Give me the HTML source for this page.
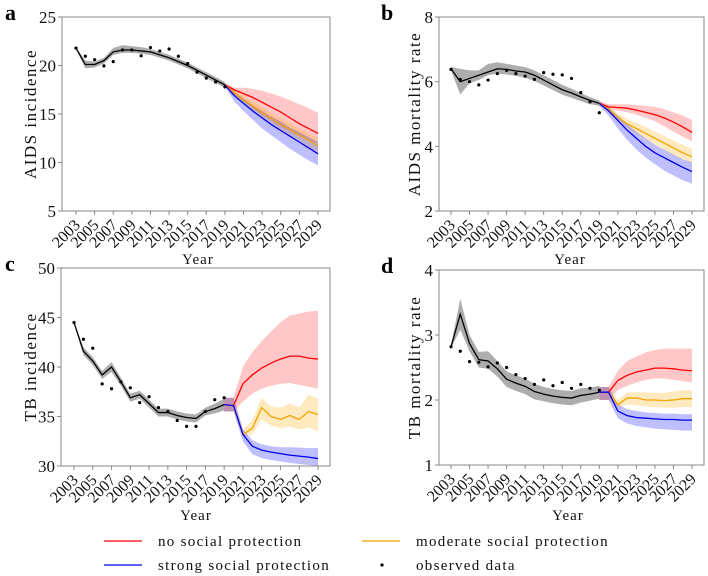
<!DOCTYPE html>
<html><head><meta charset="utf-8">
<style>
body{margin:0;background:#fff;}
svg{display:block;font-family:"Liberation Serif",serif;}
</style></head>
<body>
<svg id="chart" width="708" height="576" viewBox="0 0 708 576"></svg>
<script>
const histYears=[2003,2004,2005,2006,2007,2008,2009,2010,2011,2012,2013,2014,2015,2016,2017,2018,2019];
const projYears=[2019,2020,2021,2022,2023,2024,2025,2026,2027,2028,2029];
const tickYears=[2003,2005,2007,2009,2011,2013,2015,2017,2019,2021,2023,2025,2027,2029];

const aObs=[21.8,20.95,20.6,19.96,20.4,21.6,21.6,21.0,21.85,21.5,21.7,20.95,20.2,19.3,18.7,18.3,17.8];
const aFit=[21.8,20.1,20.1,20.5,21.4,21.6,21.6,21.5,21.4,21.1,20.8,20.4,20.0,19.5,19.0,18.5,18.0];
const aFitLo=[21.7,19.7,19.8,20.2,21.1,21.3,21.3,21.2,21.1,20.8,20.5,20.1,19.7,19.2,18.7,18.2,17.7];
const aFitHi=[21.9,20.5,20.4,20.8,21.8,22.1,22.0,21.9,21.7,21.4,21.1,20.7,20.3,19.8,19.3,18.8,18.3];
const aRed=[18.0,17.5,17.1,16.7,16.2,15.7,15.2,14.6,14.0,13.5,13.0];
const aRedHi=[18.2,17.7,17.7,17.6,17.4,17.1,16.8,16.4,16.0,15.6,15.1];
const aRedLo=[17.8,17.0,16.3,15.6,14.9,14.3,13.7,13.2,12.7,12.3,12.0];
const aOra=[18.0,17.2,16.4,15.8,15.1,14.5,13.9,13.4,12.8,12.3,11.7];
const aOraHi=[18.2,17.5,16.9,16.3,15.7,15.1,14.6,14.1,13.5,13.0,12.5];
const aOraLo=[17.8,16.9,16.0,15.3,14.6,13.9,13.3,12.7,12.1,11.6,11.0];
const aBlu=[18.0,16.9,16.1,15.3,14.6,13.9,13.3,12.7,12.1,11.5,10.9];
const aBluHi=[18.2,17.3,16.6,15.9,15.3,14.7,14.2,13.6,13.1,12.6,12.1];
const aBluLo=[17.8,16.3,15.3,14.4,13.5,12.8,12.1,11.4,10.8,10.2,9.7];
const aTicks=[5,10,15,20,25];

const bObs=[6.38,6.07,6.0,5.9,6.05,6.25,6.35,6.25,6.17,6.07,6.28,6.23,6.21,6.1,5.66,5.38,5.04];
const bFit=[6.4,6.0,6.1,6.2,6.3,6.4,6.38,6.33,6.3,6.2,6.05,5.9,5.75,5.65,5.53,5.42,5.33];
const bFitLo=[6.35,5.6,5.95,6.05,6.2,6.25,6.22,6.18,6.12,6.02,5.88,5.74,5.6,5.5,5.4,5.3,5.25];
const bFitHi=[6.45,6.4,6.35,6.35,6.55,6.6,6.55,6.5,6.45,6.35,6.2,6.05,5.9,5.78,5.65,5.52,5.42];
const bRed=[5.33,5.22,5.2,5.18,5.12,5.05,4.98,4.88,4.75,4.6,4.43];
const bRedHi=[5.4,5.3,5.3,5.3,5.28,5.25,5.22,5.15,5.05,4.95,4.82];
const bRedLo=[5.25,5.15,5.1,5.05,4.98,4.88,4.78,4.62,4.45,4.3,4.15];
const bOra=[5.33,5.15,4.9,4.7,4.55,4.4,4.25,4.1,3.95,3.8,3.68];
const bOraHi=[5.4,5.25,5.02,4.85,4.72,4.6,4.46,4.32,4.18,4.05,3.93];
const bOraLo=[5.25,5.05,4.78,4.57,4.4,4.22,4.06,3.9,3.74,3.6,3.46];
const bBlu=[5.33,5.1,4.8,4.5,4.25,4.0,3.8,3.65,3.5,3.35,3.22];
const bBluHi=[5.4,5.2,4.95,4.7,4.45,4.25,4.05,3.9,3.75,3.6,3.5];
const bBluLo=[5.25,4.95,4.55,4.2,3.9,3.65,3.45,3.25,3.1,2.95,2.85];
const bTicks=[2,4,6,8];

const cObs=[44.5,42.8,41.9,38.3,37.8,38.5,37.9,36.4,37.0,35.9,35.5,34.6,34.0,34.0,35.5,36.7,36.9];
const cFit=[44.5,41.6,40.6,39.2,40.0,38.5,36.9,37.2,36.3,35.4,35.4,35.1,34.9,34.8,35.5,35.8,36.2];
const cFitLo=[44.4,41.2,40.2,38.8,39.5,38.1,36.5,36.8,35.9,35.0,35.0,34.7,34.5,34.4,35.1,35.3,35.6];
const cFitHi=[44.6,42.0,41.0,39.6,40.5,38.9,37.3,37.6,36.7,35.8,35.8,35.5,35.3,35.2,35.9,36.3,36.8];
const cRed=[36.2,36.1,38.3,39.2,39.9,40.4,40.8,41.1,41.1,40.9,40.8];
const cRedHi=[36.9,36.9,40.0,41.5,42.6,43.6,44.5,45.2,45.4,45.6,45.7];
const cRedLo=[35.5,35.5,36.5,37.3,37.8,38.1,38.3,38.4,38.2,38.0,37.8];
const cOra=[36.2,36.1,33.2,33.8,35.9,35.0,34.7,35.1,34.7,35.5,35.2];
const cOraHi=[36.9,36.9,33.7,34.6,36.9,36.0,35.9,36.3,35.9,37.2,36.8];
const cOraLo=[35.5,35.5,32.9,33.2,34.7,34.1,33.8,34.0,33.7,33.9,33.5];
const cBlu=[36.2,36.1,33.2,32.0,31.6,31.4,31.25,31.1,31.0,30.9,30.75];
const cBluHi=[36.9,36.9,33.7,32.6,32.2,32.0,31.9,31.9,31.85,31.8,31.8];
const cBluLo=[35.5,35.5,32.5,31.2,30.8,30.6,30.45,30.3,30.2,30.1,30.0];
const cTicks=[30,35,40,45,50];

const dObs=[2.82,2.75,2.59,2.58,2.51,2.57,2.50,2.39,2.33,2.24,2.31,2.22,2.27,2.18,2.24,2.18,2.15];
const dFit=[2.82,3.32,2.87,2.62,2.6,2.48,2.32,2.26,2.21,2.13,2.09,2.06,2.04,2.03,2.07,2.09,2.12];
const dFitLo=[2.8,3.08,2.75,2.5,2.48,2.36,2.2,2.14,2.09,2.01,1.98,1.95,1.93,1.92,1.96,1.99,2.02];
const dFitHi=[2.84,3.56,3.0,2.74,2.75,2.6,2.44,2.38,2.33,2.25,2.2,2.17,2.15,2.14,2.18,2.19,2.22];
const dRed=[2.12,2.12,2.3,2.38,2.43,2.46,2.49,2.49,2.48,2.46,2.45];
const dRedHi=[2.2,2.2,2.45,2.6,2.67,2.73,2.77,2.79,2.79,2.79,2.79];
const dRedLo=[2.0,2.0,2.15,2.22,2.27,2.31,2.33,2.33,2.31,2.29,2.27];
const dOra=[2.12,2.12,1.93,2.03,2.03,2.0,2.0,1.99,2.0,2.02,2.02];
const dOraHi=[2.2,2.2,2.0,2.12,2.12,2.12,2.11,2.11,2.13,2.15,2.15];
const dOraLo=[2.0,2.0,1.88,1.93,1.92,1.9,1.89,1.88,1.88,1.89,1.89];
const dBlu=[2.12,2.12,1.83,1.76,1.73,1.72,1.71,1.7,1.7,1.69,1.69];
const dBluHi=[2.2,2.2,1.93,1.86,1.83,1.81,1.8,1.79,1.79,1.78,1.78];
const dBluLo=[2.0,2.0,1.72,1.64,1.6,1.58,1.56,1.55,1.54,1.53,1.53];
const dTicks=[1,2,3,4];

const NS="http://www.w3.org/2000/svg";
const svg=document.getElementById('chart');
function mk(tag,attrs,parent){const e=document.createElementNS(NS,tag);for(const k in attrs)e.setAttribute(k,attrs[k]);(parent||svg).appendChild(e);return e;}

function panel(p){
  const g=mk('g',{});
  
  
  const xs=y=>p.x2003+(y-2003)*(p.x2029-p.x2003)/26;
  const ys=v=>p.bottom-(v-p.ymin)*(p.bottom-p.top)/(p.ymax-p.ymin);
  const box=mk('rect',{x:p.left,y:p.top,width:p.right-p.left,height:p.bottom-p.top,fill:'none',stroke:'#8a8a8a','stroke-width':1},g);
  
  
  p.ticks.forEach(t=>{
    mk('line',{x1:p.left-4,x2:p.left,y1:ys(t),y2:ys(t),stroke:'#8a8a8a'},g);
    const tx=mk('text',{x:p.left-6,y:ys(t)+6,'text-anchor':'end','font-size':17,fill:'#111'},g);
    tx.textContent=t;
    
    
  });
  tickYears.forEach(t=>{
    const x=xs(t);
    mk('line',{x1:x,x2:x,y1:p.bottom,y2:p.bottom+4,stroke:'#8a8a8a'},g);
    const tx=mk('text',{x:x+5,y:p.bottom+15,'text-anchor':'end','font-size':16,fill:'#111',transform:`rotate(-45 ${x+5} ${p.bottom+15})`},g);
    tx.textContent=t;
    
    
  });
  function band(years,lo,hi,fill,name){
    let d='M'+years.map((y,i)=>xs(y)+','+ys(hi[i])).join('L');
    d+='L'+years.map((y,i)=>[xs(y),ys(lo[i])]).reverse().map(a=>a.join(',')).join('L')+'Z';
    const e=mk('path',{d:d,fill:fill,stroke:'none'},g);
    
    
  }
  function line(years,vals,col,name){
    const e=mk('polyline',{points:years.map((y,i)=>xs(y)+','+ys(vals[i])).join(' '),fill:'none',stroke:col,'stroke-width':1.3},g);
    
    
  }
  band(histYears,p.fitLo,p.fitHi,'rgba(0,0,0,0.32)','fit-band');
  band(projYears,p.redLo,p.redHi,'rgba(255,0,0,0.22)','no-protection-band');
  band(projYears,p.oraLo,p.oraHi,'rgba(255,170,0,0.25)','moderate-protection-band');
  band(projYears,p.bluLo,p.bluHi,'rgba(0,0,255,0.25)','strong-protection-band');
  line(histYears,p.fit,'#000','fit-line');
  line(projYears,p.red,'#ff0000','no-protection-line');
  line(projYears,p.ora,'#f5a300','moderate-protection-line');
  line(projYears,p.blu,'#0000ee','strong-protection-line');
  histYears.forEach((y,i)=>{
    const c=mk('circle',{cx:xs(y),cy:ys(p.obs[i]),r:1.6,fill:'#000'},g);
    
    
  });
  const yt=mk('text',{x:p.ytx,y:(p.top+p.bottom)/2,'text-anchor':'middle','font-size':17,'letter-spacing':1.5,fill:'#111',transform:`rotate(-90 ${p.ytx} ${(p.top+p.bottom)/2})`},g);
  yt.textContent=p.ytitle;
  
  
  const xt=mk('text',{x:p.xtx,y:p.xty,'text-anchor':'middle','font-size':15,'letter-spacing':1,fill:'#111'},g);
  xt.textContent='Year';
  
  
  const lt=mk('text',{x:p.lx,y:p.ly,'font-size':22,'font-weight':'bold',fill:'#000'},g);
  lt.textContent=p.id;
  
  
}

panel({id:'a',left:62,right:330,top:17,bottom:211,x2003:76,x2029:318,ymin:5,ymax:25,ticks:aTicks,
  obs:aObs,fit:aFit,fitLo:aFitLo,fitHi:aFitHi,red:aRed,redLo:aRedLo,redHi:aRedHi,ora:aOra,oraLo:aOraLo,oraHi:aOraHi,blu:aBlu,bluLo:aBluLo,bluHi:aBluHi,
  ytitle:'AIDS incidence',ytx:36,xtx:198,xty:264,lx:5,ly:20});
panel({id:'b',left:439,right:704,top:17,bottom:211,x2003:451,x2029:692,ymin:2,ymax:8,ticks:bTicks,
  obs:bObs,fit:bFit,fitLo:bFitLo,fitHi:bFitHi,red:bRed,redLo:bRedLo,redHi:bRedHi,ora:bOra,oraLo:bOraLo,oraHi:bOraHi,blu:bBlu,bluLo:bBluLo,bluHi:bBluHi,
  ytitle:'AIDS mortality rate',ytx:420,xtx:570,xty:264,lx:381,ly:20});
panel({id:'c',left:61,right:330,top:268,bottom:466,x2003:74,x2029:318,ymin:30,ymax:50,ticks:cTicks,
  obs:cObs,fit:cFit,fitLo:cFitLo,fitHi:cFitHi,red:cRed,redLo:cRedLo,redHi:cRedHi,ora:cOra,oraLo:cOraLo,oraHi:cOraHi,blu:cBlu,bluLo:cBluLo,bluHi:cBluHi,
  ytitle:'TB incidence',ytx:36,xtx:196,xty:520,lx:5,ly:271});
panel({id:'d',left:439,right:704,top:270,bottom:465,x2003:451,x2029:692,ymin:1,ymax:4,ticks:dTicks,
  obs:dObs,fit:dFit,fitLo:dFitLo,fitHi:dFitHi,red:dRed,redLo:dRedLo,redHi:dRedHi,ora:dOra,oraLo:dOraLo,oraHi:dOraHi,blu:dBlu,bluLo:dBluLo,bluHi:dBluHi,
  ytitle:'TB mortality rate',ytx:420,xtx:568,xty:520,lx:381,ly:273});

const lg=mk('g',{});


const legendItems=[
  {t:'no social protection',x:104,y:541,col:'#ff0000',type:'line'},
  {t:'moderate social protection',x:362,y:541,col:'#f5a300',type:'line'},
  {t:'strong social protection',x:104,y:565,col:'#0000ee',type:'line'},
  {t:'observed data',x:362,y:565,col:'#000',type:'dot'}];
legendItems.forEach(it=>{
  const e=mk('g',{},lg);
  
  
  if(it.type==='line') mk('line',{x1:it.x,x2:it.x+38,y1:it.y,y2:it.y,stroke:it.col,'stroke-width':1.3},e);
  else mk('circle',{cx:it.x+20,cy:it.y,r:1.6,fill:'#000'},e);
  const tx=mk('text',{x:it.x+54,y:it.y+5,'font-size':15,'letter-spacing':1.3,fill:'#111'},e);
  tx.textContent=it.t;
});
</script>
</body></html>
